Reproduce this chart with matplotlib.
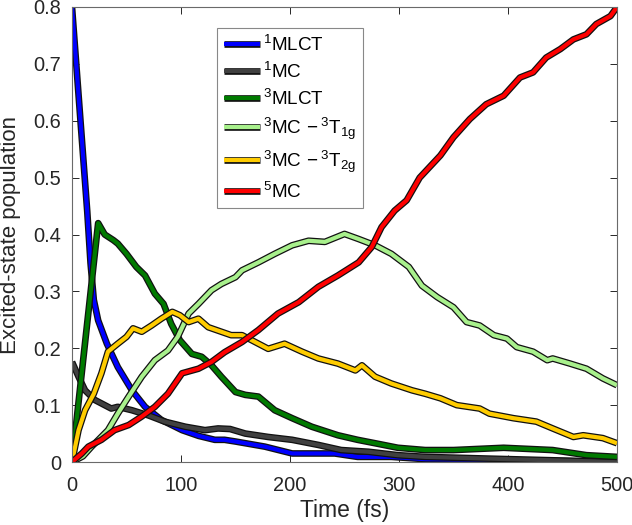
import matplotlib
matplotlib.use("Agg")
import matplotlib.pyplot as plt
import matplotlib.patheffects as pe

plt.rcParams['font.family'] = ['Liberation Sans', 'DejaVu Sans']
plt.rcParams['mathtext.fontset'] = 'custom'
plt.rcParams['mathtext.rm'] = 'Liberation Sans'
plt.rcParams['mathtext.it'] = 'Liberation Sans:italic'
plt.rcParams['mathtext.bf'] = 'Liberation Sans:bold'

labels = [r'$^1$MLCT', r'$^1$MC', r'$^3$MLCT', r'$^3$MC$\,-^3$T$_{\mathrm{1g}}$',
          r'$^3$MC$\,-^3$T$_{\mathrm{2g}}$', r'$^5$MC']
colors = ['#0000ff', '#404040', '#007a00', '#a8f08c', '#ffcc00', '#ff0000']

t_1mlct = [0, 14, 17, 20, 24, 32, 42, 55, 67, 82, 101, 116, 131, 140, 150, 159, 177, 202, 220, 241, 262, 293, 324, 381, 441, 500]
y_1mlct = [0.8, 0.44, 0.35, 0.285, 0.249, 0.208, 0.167, 0.126, 0.097, 0.074, 0.056, 0.046, 0.039, 0.039, 0.036, 0.033, 0.027, 0.015, 0.015, 0.015, 0.009, 0.009, 0.005, 0.004, 0.002, 0.0]

t_1mc = [0, 6, 12, 21, 36, 42, 55, 70, 85, 104, 122, 134, 145, 159, 180, 202, 226, 247, 272, 299, 324, 381, 441, 500]
y_1mc = [0.176, 0.15, 0.126, 0.109, 0.094, 0.097, 0.091, 0.082, 0.071, 0.062, 0.056, 0.059, 0.058, 0.05, 0.044, 0.039, 0.03, 0.021, 0.018, 0.012, 0.009, 0.006, 0.003, 0.0]

t_3mlct = [0, 24, 30, 38, 42, 50, 59, 67, 76, 84, 91, 99, 110, 119, 128, 137, 150, 159, 171, 186, 202, 220, 244, 262, 278, 299, 324, 350, 396, 441, 472, 500]
y_3mlct = [0, 0.42, 0.40, 0.39, 0.384, 0.366, 0.343, 0.328, 0.296, 0.278, 0.243, 0.214, 0.19, 0.185, 0.17, 0.15, 0.123, 0.118, 0.115, 0.091, 0.077, 0.062, 0.047, 0.039, 0.033, 0.025, 0.021, 0.021, 0.025, 0.021, 0.012, 0.009]

t_t1g = [0, 10, 18, 33, 42, 52, 64, 76, 88, 97, 107, 116, 128, 137, 150, 156, 171, 186, 202, 217, 232, 250, 263, 278, 293, 309, 321, 335, 350, 362, 374, 387, 399, 408, 423, 436, 441, 457, 472, 487, 500]
y_t1g = [0, 0.01, 0.027, 0.056, 0.085, 0.115, 0.15, 0.179, 0.196, 0.22, 0.261, 0.278, 0.302, 0.313, 0.325, 0.337, 0.351, 0.366, 0.381, 0.389, 0.387, 0.401, 0.392, 0.381, 0.366, 0.343, 0.31, 0.29, 0.272, 0.246, 0.24, 0.223, 0.217, 0.202, 0.194, 0.179, 0.182, 0.173, 0.164, 0.147, 0.135]

t_t2g = [0, 6, 12, 20, 27, 33, 42, 50, 56, 64, 73, 82, 92, 99, 107, 116, 125, 137, 146, 156, 171, 180, 195, 211, 226, 244, 260, 266, 278, 293, 312, 324, 338, 353, 374, 383, 405, 426, 441, 460, 469, 487, 500]
y_t2g = [0, 0.056, 0.091, 0.12, 0.156, 0.194, 0.208, 0.22, 0.235, 0.229, 0.24, 0.252, 0.264, 0.258, 0.246, 0.252, 0.237, 0.229, 0.223, 0.223, 0.208, 0.199, 0.208, 0.194, 0.182, 0.173, 0.161, 0.17, 0.15, 0.138, 0.126, 0.12, 0.112, 0.1, 0.094, 0.085, 0.077, 0.071, 0.059, 0.044, 0.047, 0.042, 0.033]

t_5mc = [0, 9, 15, 27, 39, 52, 64, 76, 88, 101, 116, 128, 140, 156, 171, 189, 208, 226, 244, 263, 275, 284, 296, 307, 319, 338, 350, 365, 380, 396, 411, 423, 435, 448, 460, 472, 481, 494, 500]
y_5mc = [0, 0.015, 0.027, 0.039, 0.056, 0.065, 0.08, 0.097, 0.12, 0.156, 0.164, 0.176, 0.193, 0.211, 0.232, 0.261, 0.281, 0.308, 0.328, 0.351, 0.378, 0.413, 0.442, 0.46, 0.5, 0.539, 0.571, 0.603, 0.629, 0.644, 0.676, 0.685, 0.711, 0.726, 0.743, 0.752, 0.77, 0.784, 0.8]

xticks = [0, 100, 200, 300, 400, 500]
yticks = [0, 0.1, 0.2, 0.3, 0.4, 0.5, 0.6, 0.7, 0.8]
ytick_labels = ['0', '0.1', '0.2', '0.3', '0.4', '0.5', '0.6', '0.7', '0.8']

series = [(t_1mlct, y_1mlct), (t_1mc, y_1mc), (t_3mlct, y_3mlct),
          (t_t1g, y_t1g), (t_t2g, y_t2g), (t_5mc, y_5mc)]

fig = plt.figure(figsize=(6.32, 5.25), dpi=100)
ax = fig.add_axes([72/632, 1 - 462/525, 545/632, 455/525])

effects = [pe.Stroke(linewidth=4.8, foreground='#111111'), pe.Normal()]
for (t, y), c, lab in zip(series, colors, labels):
    ax.plot(t, y, color=c, lw=3.0, label=lab, path_effects=effects,
            solid_joinstyle='round', solid_capstyle='butt')

ax.set_xlim(0, 500)
ax.set_ylim(0, 0.8)
ax.set_xticks(xticks)
ax.set_yticks(yticks)
ax.set_yticklabels(ytick_labels)
ax.tick_params(direction='in', top=True, right=True, length=5, width=0.7,
               labelsize=14.4, colors='#262626')
ax.tick_params(axis='x', pad=10)
ax.tick_params(axis='y', pad=8)
for s in ax.spines.values():
    s.set_color('#6a6a6a')
    s.set_linewidth(0.8)
ax.set_xlabel('Time (fs)', fontsize=16.5, color='#262626')
ax.set_ylabel('Excited-state population', fontsize=16, color='#262626')
ax.xaxis.set_label_coords(0.5, -(510 - 462) / 455, transform=ax.transAxes)
ax.yaxis.set_label_coords(-(72 - 11) / 545, 0.5, transform=ax.transAxes)
ax.xaxis.label.set_va('center')
ax.yaxis.label.set_va('center')

leg = ax.legend(loc='upper left', bbox_to_anchor=(145/545, 434/455), borderaxespad=0,
                fontsize=13.6, frameon=True, fancybox=False, edgecolor='#6a6a6a',
                handlelength=1.9, handletextpad=0.2, labelspacing=0.36,
                borderpad=0.35)
leg.get_frame().set_linewidth(0.8)
for h in leg.get_lines():
    h.set_path_effects(effects)

fig.savefig('out.png', dpi=100)
